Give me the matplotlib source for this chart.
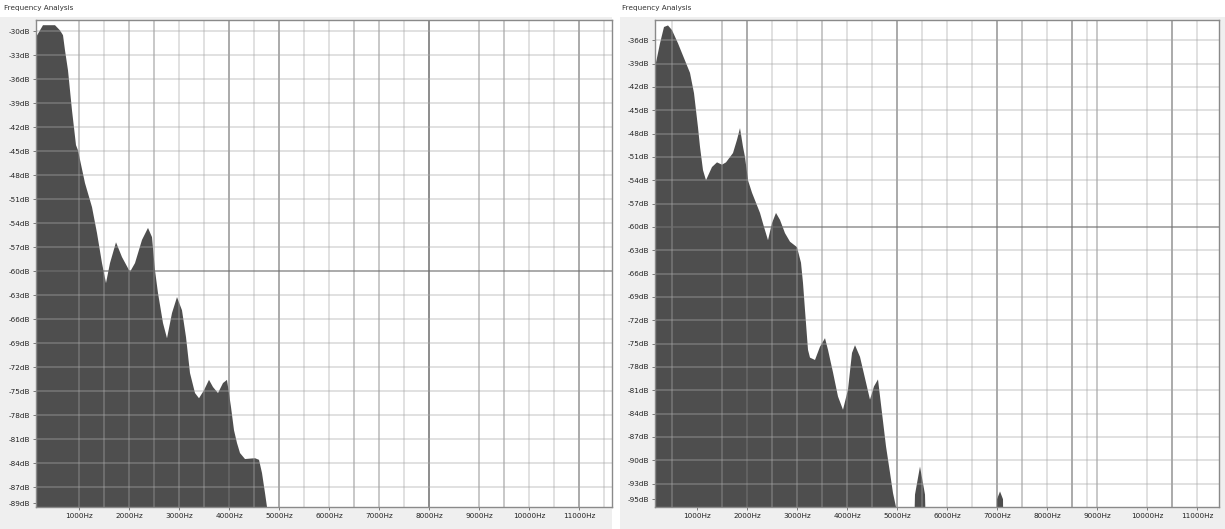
import matplotlib
matplotlib.use("Agg")
import matplotlib.pyplot as plt
from matplotlib.patches import Rectangle

# ---- spectrum data (Hz, dB) ----
left_freq = [140, 280, 520, 620, 680, 720, 780, 860, 940, 980, 1120, 1260, 1360, 1460,
             1540, 1620, 1740, 1860, 2020, 2120, 2260, 2380, 2460, 2520, 2580, 2680,
             2760, 2860, 2960, 3060, 3140, 3220, 3320, 3400, 3500, 3600, 3680, 3780,
             3880, 3960, 4040, 4100, 4160, 4220, 4320, 4520, 4600, 4660, 4720, 4760,
             4800, 11700]
left_db = [-30.75, -29.25, -29.25, -29.9, -30.5, -32.4, -34.9, -39.9, -44.25, -44.9,
           -49.0, -52.0, -55.25, -59.0, -61.5, -59.0, -56.4, -58.25, -60.1, -59.0,
           -56.1, -54.6, -55.75, -59.9, -62.75, -66.5, -68.4, -65.25, -63.25, -64.9,
           -68.25, -72.75, -75.25, -75.9, -74.9, -73.6, -74.5, -75.25, -74.0, -73.6,
           -77.0, -79.9, -81.5, -82.75, -83.5, -83.4, -83.6, -85.25, -87.75, -89.5,
           -120, -120]

right_freq = [160, 260, 340, 420, 500, 620, 740, 860, 940, 1020, 1060, 1120, 1180, 1300,
              1400, 1500, 1580, 1720, 1800, 1860, 1920, 1960, 2020, 2100, 2180, 2260,
              2340, 2420, 2500, 2580, 2660, 2760, 2860, 3000, 3080, 3120, 3160, 3200,
              3220, 3260, 3360, 3460, 3560, 3620, 3720, 3820, 3920, 4020, 4100, 4160,
              4260, 4380, 4460, 4540, 4620, 4700, 4780, 4860, 4920, 4980, 5060,
              5260, 5360, 5460, 5560, 5660,
              6960, 7000, 7060, 7120, 7160, 11500]
right_db = [-39.5, -36.4, -34.3, -34.1, -34.7, -36.4, -38.3, -40.2, -42.8, -47.2, -49.7,
            -52.7, -54.0, -52.3, -51.7, -52.0, -51.7, -50.5, -48.8, -47.3, -49.7, -51.0,
            -54.0, -55.6, -56.9, -58.2, -60.0, -61.7, -59.5, -58.2, -59.1, -60.8, -61.9,
            -62.6, -64.6, -67.2, -70.7, -74.1, -75.8, -76.8, -77.1, -75.4, -74.3, -75.8,
            -78.7, -81.8, -83.5, -80.9, -76.2, -75.2, -76.7, -80.0, -82.2, -80.5, -79.6,
            -83.9, -88.2, -91.6, -94.2, -96.0, -120,
            -120, -94.4, -90.8, -94.4, -120,
            -120, -95.0, -94.0, -95.0, -120, -120]

left_yticks = list(range(-30, -88, -3)) + [-89]
right_yticks = list(range(-36, -94, -3)) + [-95]
x_ticks = [1000, 2000, 3000, 4000, 5000, 6000, 7000, 8000, 9000, 10000, 11000]
x_labels = [f"{v}Hz" for v in x_ticks]

# vertical grid shades per panel: (frequency, strength 0..3)
left_vgrid = [(1000, 1), (1500, 0), (2000, 1), (2500, 1), (3000, 0), (3500, 0),
              (4000, 2), (4500, 0), (5000, 2), (5500, 0), (6000, 0), (6500, 1),
              (7000, 1), (7500, 0), (8000, 3), (9000, 1), (9500, 1), (10000, 0),
              (10500, 0), (11000, 2), (11500, 0)]
right_vgrid = [(500, 0), (1500, 1), (2000, 2), (2500, 0), (3000, 0), (3500, 1),
               (4000, 0), (4500, 0), (5000, 2), (5500, 0), (6000, 0), (6500, 0),
               (7000, 2), (7500, 1), (8000, 0), (8500, 2), (8800, 0), (9000, 1),
               (10000, 0), (10500, 2), (11000, 0)]

SHADES = {0: ("#a8a8a8", 0.45), 1: ("#8c8c8c", 0.6), 2: ("#707070", 0.75),
          3: ("#555555", 0.85)}

W, H = 1225, 529
fig = plt.figure(figsize=(W / 100, H / 100), dpi=100, facecolor="white")

# light panel backgrounds behind the rulers
fig.patches.append(Rectangle((0, 0), 612 / W, (H - 17) / H, transform=fig.transFigure,
                             facecolor="#efefef", edgecolor="none", zorder=-10))
fig.patches.append(Rectangle((620 / W, 0), (W - 620) / W, (H - 17) / H,
                             transform=fig.transFigure, facecolor="#efefef",
                             edgecolor="none", zorder=-10))


def panel(px_left, px_right, xlim, ylim, freq, db, yticks, vgrid, title_x):
    ax = fig.add_axes([px_left / W, 1 - 507 / H, (px_right - px_left) / W, 487 / H])
    ax.set_zorder(1)
    ax.set_facecolor("white")
    ax.fill_between(freq, db, -130, color="#4e4e4e", lw=0, zorder=1)
    ax.set_xlim(*xlim)
    ax.set_ylim(*ylim)
    for f, s in vgrid:
        c, a = SHADES[s]
        ax.axvline(f, color=c, alpha=a, lw=1.1, zorder=2)
    for v in yticks[:-1]:
        s = 2 if v == -60 else 0
        c, a = SHADES[s]
        ax.axhline(v, color=c, alpha=a, lw=1.1, zorder=2)
    ax.set_yticks(yticks)
    ax.set_yticklabels([f"{v}dB" for v in yticks], fontsize=5.2, color="#222222")
    ax.set_xticks(x_ticks)
    ax.set_xticklabels(x_labels, fontsize=5.2, color="#222222")
    ax.tick_params(axis="both", length=2, width=0.6, color="#666666", pad=2)
    for sp in ax.spines.values():
        sp.set_color("#8a8a8a")
        sp.set_linewidth(1.0)
    fig.text(title_x / W, 1 - 8 / H, "Frequency Analysis", fontsize=5.2,
             color="#333333", va="center", ha="left")
    return ax


panel(36, 612, (140, 11660), (-89.5, -28.6), left_freq, left_db, left_yticks,
      left_vgrid, 4)
panel(655, 1219, (160, 11440), (-96.0, -33.4), right_freq, right_db, right_yticks,
      right_vgrid, 622)

fig.savefig("out.png", dpi=100, facecolor=fig.get_facecolor())
